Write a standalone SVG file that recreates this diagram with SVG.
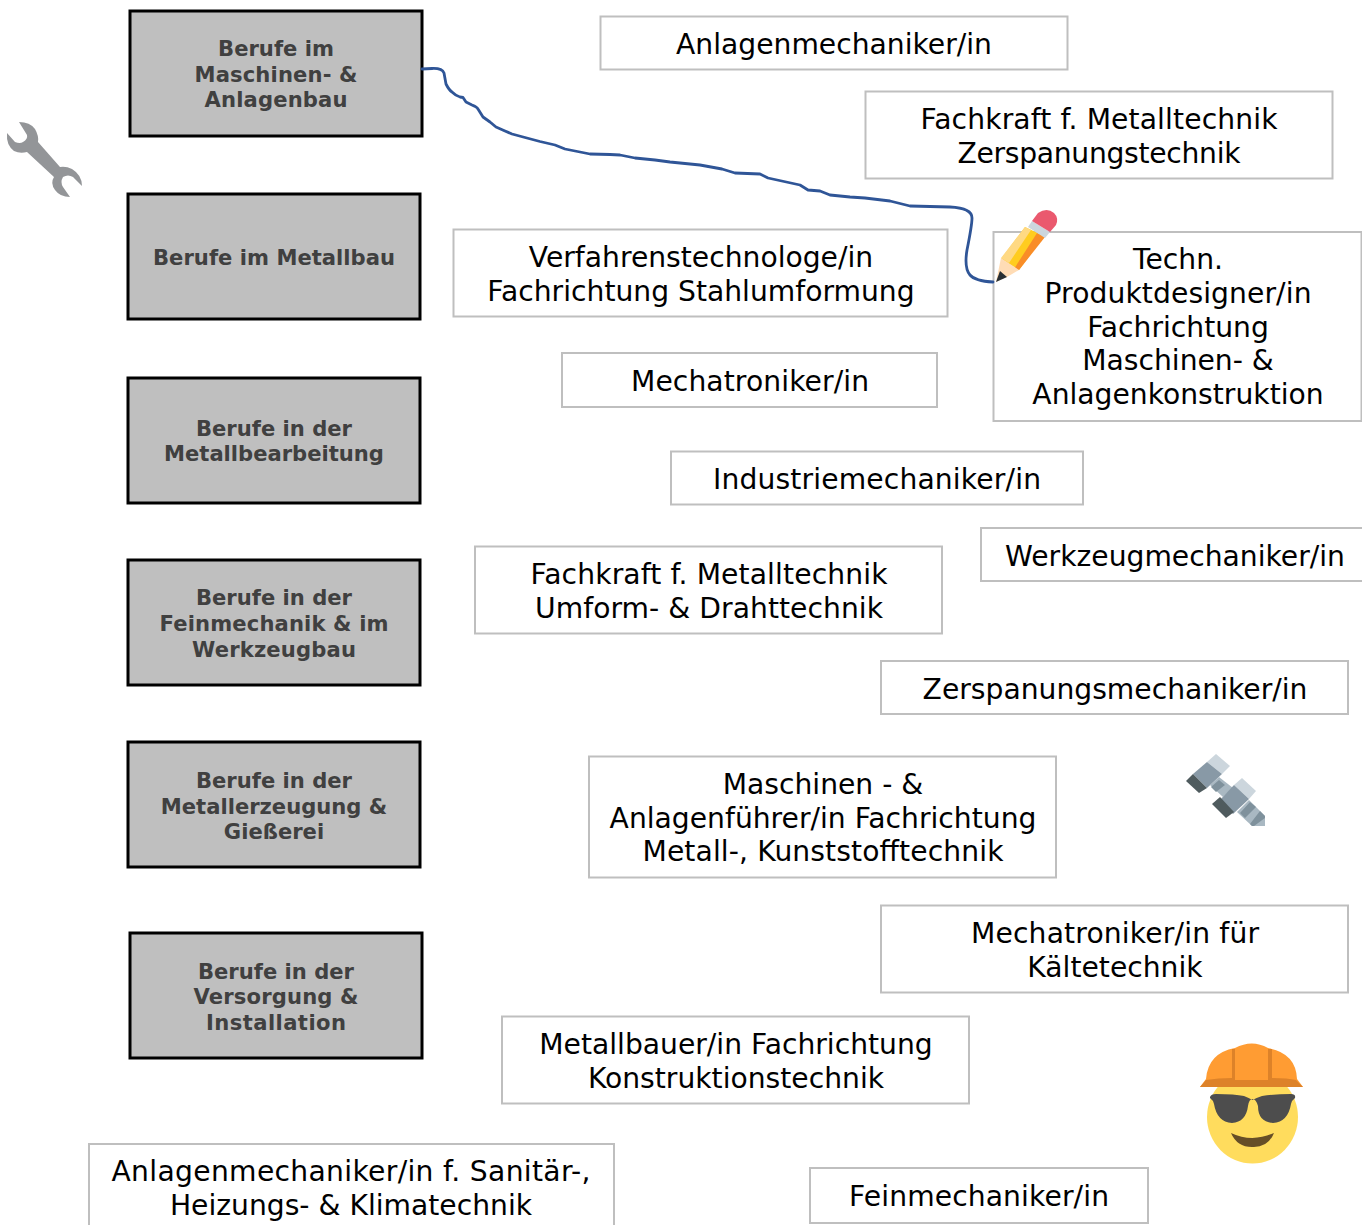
<svg xmlns="http://www.w3.org/2000/svg" width="1362" height="1225" viewBox="0 0 1362 1225">
<style>
.cat rect{fill:#bfbfbf;stroke:#000;stroke-width:3}
.cat text{font:bold 21.100px "DejaVu Sans",Verdana,sans-serif;fill:#404040;text-anchor:middle}
.job rect{fill:#fff;stroke:#bfbfbf;stroke-width:2}
.job text{font:28.200px "DejaVu Sans",Verdana,sans-serif;fill:#000;text-anchor:middle}
</style>
<rect width="1362" height="1225" fill="#fff"/>
<g id="cat1" class="cat"><rect x="130" y="11" width="292" height="125"/><text x="276" y="56">Berufe im</text><text x="276" y="82" textLength="163">Maschinen- &amp;</text><text x="276" y="107" textLength="143">Anlagenbau</text></g>
<g id="cat2" class="cat"><rect x="128" y="194" width="292" height="125"/><text x="274" y="265" textLength="242">Berufe im Metallbau</text></g>
<g id="cat3" class="cat"><rect x="128" y="378" width="292" height="125"/><text x="274" y="436">Berufe in der</text><text x="274" y="461">Metallbearbeitung</text></g>
<g id="cat4" class="cat"><rect x="128" y="560" width="292" height="125"/><text x="274" y="605">Berufe in der</text><text x="274" y="631" textLength="229">Feinmechanik &amp; im</text><text x="274" y="657" textLength="164">Werkzeugbau</text></g>
<g id="cat5" class="cat"><rect x="128" y="742" width="292" height="125"/><text x="274" y="788">Berufe in der</text><text x="274" y="814">Metallerzeugung &amp;</text><text x="274" y="839">Gießerei</text></g>
<g id="cat6" class="cat"><rect x="130" y="933" width="292" height="125"/><text x="276" y="979">Berufe in der</text><text x="276" y="1004" textLength="165">Versorgung &amp;</text><text x="276" y="1030" textLength="140">Installation</text></g>

<g id="job1" class="job"><rect x="600.500" y="16.500" width="467" height="53"/><text x="834" y="54">Anlagenmechaniker/in</text></g>
<g id="job2" class="job"><rect x="865.500" y="91.500" width="467" height="87"/><text x="1099" y="129" textLength="357">Fachkraft f. Metalltechnik</text><text x="1099" y="163" textLength="283">Zerspanungstechnik</text></g>
<g id="job3" class="job"><rect x="453.500" y="229.500" width="494" height="87"/><text x="701" y="267">Verfahrenstechnologe/in</text><text x="701" y="301">Fachrichtung Stahlumformung</text></g>
<g id="job4" class="job"><rect x="993.500" y="232" width="368" height="189"/><text x="1178" y="269">Techn.</text><text x="1178" y="303" textLength="267">Produktdesigner/in</text><text x="1178" y="337">Fachrichtung</text><text x="1178" y="370">Maschinen- &amp;</text><text x="1178" y="404">Anlagenkonstruktion</text></g>
<g id="job5" class="job"><rect x="562" y="353" width="375" height="54"/><text x="750" y="391" textLength="238">Mechatroniker/in</text></g>
<g id="job6" class="job"><rect x="671" y="451.500" width="412" height="53"/><text x="877" y="489" textLength="328">Industriemechaniker/in</text></g>
<g id="job7" class="job"><path d="M1362 528H981V581H1362" fill="#fff" stroke="#bfbfbf" stroke-width="2"/><text x="1175" y="566">Werkzeugmechaniker/in</text></g>
<g id="job8" class="job"><rect x="475" y="546.500" width="467" height="87"/><text x="709" y="584" textLength="357">Fachkraft f. Metalltechnik</text><text x="709" y="618" textLength="348">Umform- &amp; Drahttechnik</text></g>
<g id="job9" class="job"><rect x="881" y="661" width="467" height="53"/><text x="1115" y="699">Zerspanungsmechaniker/in</text></g>
<g id="job10" class="job"><rect x="589" y="756.500" width="467" height="121"/><text x="823" y="794">Maschinen - &amp;</text><text x="823" y="828">Anlagenführer/in Fachrichtung</text><text x="823" y="861" textLength="361">Metall-, Kunststofftechnik</text></g>
<g id="job11" class="job"><rect x="881" y="905.500" width="467" height="87"/><text x="1115" y="943" textLength="288">Mechatroniker/in für</text><text x="1115" y="977">Kältetechnik</text></g>
<g id="job12" class="job"><rect x="502" y="1016.500" width="467" height="87"/><text x="736" y="1054">Metallbauer/in Fachrichtung</text><text x="736" y="1088">Konstruktionstechnik</text></g>
<g id="job13" class="job"><path d="M89 1225V1144H614V1225" fill="#fff" stroke="#bfbfbf" stroke-width="2"/><text x="351" y="1181" textLength="479">Anlagenmechaniker/in f. Sanitär-,</text><text x="351" y="1215">Heizungs- &amp; Klimatechnik</text></g>
<g id="job14" class="job"><rect x="810" y="1168" width="338" height="55"/><text x="979" y="1206" textLength="260">Feinmechaniker/in</text></g>

<g id="connectors"><path fill="none" stroke="#2f5597" stroke-width="2.800" stroke-linejoin="round" stroke-linecap="round" d="M422 69L432 68.500Q442 68 444 73L446 84Q449 90 452 92Q456 96 460 97L463 97.500L466 102L472 105Q477 107 478 109L483 117L490 122L496 127L505 131L512 134L525 137.500L540 141.500L555 145L565 149L580 152L590 154L610 154.500L620 155L635 158L655 160L670 162L700 165L722 169L735 173L760 174L768 178L800 185L808 190L820 191L830 195L850 197L865 198L890 201L910 206L950 207Q972 208 972 218Q972 225 967 250Q964 268 970 275Q975 281 993 282"/></g>

<g id="wrench"><path fill="#939598" d="M19 122Q30 122 35 129Q39 136 38 142L60 167Q66 166 72 169Q82 175 82 186L73 177Q68 174 63 177Q60 182 63 187L70 197Q60 197 55 190Q50 183 54 177L27 152Q20 154 14 151Q6 145 7 133L15 142Q20 144 23 142Q28 139 27 135Z"/></g>

<g id="pencil">
<path fill="#ffcc1f" d="M1025 227L1044 236L1019 270L1001 259Z"/>
<path fill="#ffd983" d="M1025 227L1031 230L1009 263L1001 258Z"/>
<path fill="#f98d27" d="M1037 233L1045 237L1019 270L1014 269Z"/>
<path fill="#ccd6dd" d="M1028 227L1032 221L1050 232L1045 238Z"/>
<path fill="#ea596e" d="M1032 221L1038 213Q1047 207 1054 213Q1059 218 1056 225L1050 232Z"/>
<path fill="#ffdcb5" d="M1001 258L1019 270L1007 277L996 282Z"/>
<path fill="#292f33" d="M1000 271L1007 277L996 282Z"/>
</g>

<g id="bolts">
<path fill="#ccd6dd" d="M1216 754L1230 766L1222 774L1207 762Z"/>
<path fill="#8899a6" d="M1207 762L1222 774L1207 788L1193 774Z"/>
<path fill="#4f5b5e" d="M1193 774L1207 788L1199 793L1186 781Z"/>
<path fill="#a9b8c2" d="M1219 777L1233 788L1223 797L1210 785Z"/>
<path fill="#7f919c" d="M1219 780L1225 785L1216 792L1211 787Z"/>
<path fill="#ccd6dd" d="M1242 778L1256 791L1249 799L1234 785Z"/>
<path fill="#8899a6" d="M1234 785L1249 799L1233 814L1220 800Z"/>
<path fill="#4f5b5e" d="M1220 797L1234 812L1226 818L1212 804Z"/>
<path fill="#a9b8c2" d="M1249 800L1265 816V826H1252L1237 812Z"/>
<path fill="#7f919c" d="M1250 802L1256 807L1245 818L1240 813ZM1260 811L1265 816V818L1254 826H1252L1250 824Z"/>
</g>

<g id="worker">
<ellipse cx="1252.500" cy="1117" rx="45.500" ry="46.500" fill="#ffdc5d"/>
<path fill="#4d4d4d" d="M1210 1097Q1211 1094 1216 1094Q1235 1094 1244 1096Q1249 1098 1252.500 1100Q1256 1098 1262 1096Q1275 1094 1291 1094Q1296 1094 1295 1098Q1292 1100 1291 1104Q1288 1122 1273 1123Q1258 1122 1258 1106Q1256 1099 1252.500 1099Q1249 1099 1248 1106Q1246 1122 1232 1123Q1217 1122 1214 1104Q1213 1100 1210 1098Z"/>
<path fill="#664e27" d="M1231 1133Q1252 1143 1274 1133Q1268 1148 1252 1147Q1237 1147 1231 1133Z"/>
<path fill="#ff9c33" d="M1206 1079Q1208 1053 1235 1048Q1252 1039 1268 1048Q1296 1053 1297 1079L1303 1087H1200Z"/>
<path fill="#dd8229" d="M1232 1049H1235V1080H1268V1049H1272V1078Q1288 1078 1296 1080L1303 1087H1200L1206 1080Q1218 1078 1232 1078Z"/>
</g>
</svg>
